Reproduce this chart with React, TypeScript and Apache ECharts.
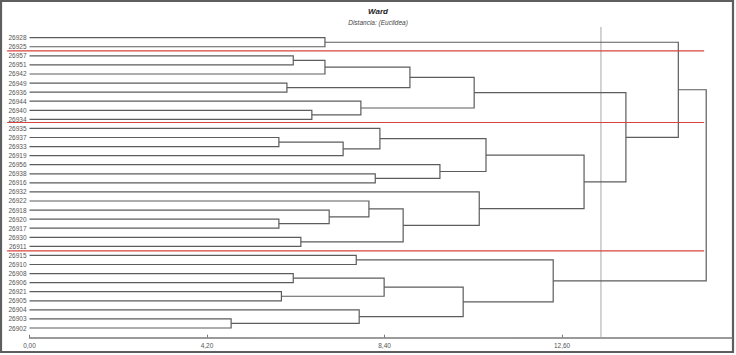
import React, { useEffect, useRef } from "react";
import * as echarts from "echarts";

// Leaf labels, top to bottom
const leaves = [
  "26928", "26925", "26957", "26951", "26942", "26949", "26936", "26944", "26940", "26934",
  "26935", "26937", "26933", "26919", "26956", "26938", "26916", "26932", "26922", "26918",
  "26920", "26917", "26930", "26911", "26915", "26910", "26908", "26906", "26921", "26905",
  "26904", "26903", "26902",
];

// Merges: leaf names or "#k" (k = earlier merge index), with fusion distance
const mergeLeft = [
  "26928", "26957", "#1", "26949", "#2", "26940", "26944", "#4",
  "26937", "#8", "26935", "26938", "26956", "#10",
  "26920", "26918", "26922", "26930", "#16", "26932", "#13", "#7", "#0",
  "26915", "26908", "26921", "#24", "26903", "26904", "#26", "#23", "#22",
];
const mergeRight = [
  "26925", "26951", "26942", "26936", "#3", "26934", "#5", "#6",
  "26933", "26919", "#9", "26916", "#11", "#12",
  "26917", "#14", "#15", "26911", "#17", "#18", "#19", "#20", "#21",
  "26910", "26906", "26905", "#25", "26902", "#27", "#28", "#29", "#30",
];
const mergeHeight = [
  6.99, 6.24, 6.99, 6.09, 9.0, 6.68, 7.84, 10.52,
  5.9, 7.42, 8.29, 8.18, 9.71, 10.8,
  5.9, 7.09, 8.03, 6.42, 8.84, 10.64, 13.12, 14.11, 15.35,
  7.73, 6.24, 5.96, 8.39, 4.77, 7.8, 10.26, 12.39, 16.01,
];

// Cluster separators (row positions) and cut level
const separatorRows = [1.45, 9.35, 23.5];
const separatorFrom = -0.53;
const separatorTo = 15.96;
const cutLevel = 13.52;
const cutFromRow = -1.18;
const cutToRow = 33.07;

const xTickLabels = ["0,00", "4,20", "8,40", "12,60"];
const xMax = 16.62;
const xInterval = 4.2;

function buildLinks() {
  const pos: { h: number; y: number }[] = [];
  const get = (ref: string) => {
    if (ref.startsWith("#")) return pos[parseInt(ref.slice(1), 10)];
    return { h: 0, y: leaves.indexOf(ref) };
  };
  const links: number[][] = [];
  for (let i = 0; i < mergeHeight.length; i++) {
    const a = get(mergeLeft[i]);
    const b = get(mergeRight[i]);
    const h = mergeHeight[i];
    links.push([a.h, a.y, h, b.y, b.h]);
    pos.push({ h, y: (a.y + b.y) / 2 });
  }
  return links;
}

export default function App() {
  const ref = useRef<HTMLDivElement>(null);
  useEffect(() => {
    document.body.style.margin = "0";
    const chart = echarts.init(ref.current!, null, { renderer: "svg" });
    const links = buildLinks();
    const font = "Liberation Sans";
    chart.setOption({
      animation: false,
      backgroundColor: "#ffffff",
      grid: { left: 29.5, right: 4, top: 37.7, bottom: 27 },
      xAxis: {
        type: "value",
        position: "bottom",
        min: 0,
        max: xMax,
        interval: xInterval,
        offset: 9.7,
        axisLine: { show: true, onZero: false, lineStyle: { color: "#7a7a7a", width: 1.5 } },
        axisTick: { show: true, inside: true, length: 3, lineStyle: { color: "#7a7a7a" } },
        splitLine: { show: false },
        axisLabel: {
          fontSize: 6.5,
          color: "#555",
          fontFamily: font,
          margin: 4,
          showMaxLabel: false,
          formatter: (v: number) => {
            const idx = Math.round(v / xInterval);
            return Math.abs(idx * xInterval - v) < 1e-6 && xTickLabels[idx] ? xTickLabels[idx] : "";
          },
        },
      },
      yAxis: {
        type: "value",
        inverse: true,
        min: 0,
        max: leaves.length - 1,
        interval: 1,
        axisLine: { show: false },
        axisTick: { show: false },
        splitLine: { show: false },
        axisLabel: {
          fontSize: 6.5,
          color: "#555",
          fontFamily: font,
          margin: 3,
          formatter: (v: number) => leaves[Math.round(v)] ?? "",
        },
      },
      graphic: [
        {
          type: "rect",
          shape: { x: 1, y: 1, width: 732, height: 351 },
          style: { fill: "none", stroke: "#5e5e5e", lineWidth: 2.2 },
          silent: true,
        },
        {
          type: "text",
          x: 378,
          y: 11,
          style: {
            text: "Ward",
            fontSize: 8,
            fontWeight: "bold",
            fontStyle: "italic",
            fontFamily: font,
            fill: "#222",
            align: "center",
            verticalAlign: "middle",
          },
        },
        {
          type: "text",
          x: 378,
          y: 22,
          style: {
            text: "Distancia: (Euclidea)",
            fontSize: 6.5,
            fontStyle: "italic",
            fontFamily: font,
            fill: "#444",
            align: "center",
            verticalAlign: "middle",
          },
        },
      ],
      series: [
        {
          type: "custom",
          data: [[cutLevel, cutFromRow, cutToRow]],
          encode: { x: [0], y: [1, 2] },
          clip: false,
          silent: true,
          z: 1,
          renderItem: (params: any, api: any) => {
            const p1 = api.coord([api.value(0), api.value(1)]);
            const p2 = api.coord([api.value(0), api.value(2)]);
            return {
              type: "line",
              shape: { x1: p1[0], y1: p1[1], x2: p2[0], y2: p2[1] },
              style: { stroke: "#a8a8a8", lineWidth: 1 },
            };
          },
        },
        {
          type: "custom",
          data: links,
          encode: { x: [0, 2, 4], y: [1, 3] },
          clip: false,
          silent: true,
          z: 2,
          renderItem: (params: any, api: any) => {
            const a = api.coord([api.value(0), api.value(1)]);
            const b = api.coord([api.value(2), api.value(1)]);
            const c = api.coord([api.value(2), api.value(3)]);
            const d = api.coord([api.value(4), api.value(3)]);
            return {
              type: "polyline",
              shape: { points: [a, b, c, d] },
              style: { stroke: "#5c5c5c", lineWidth: 1.2, fill: "none" },
            };
          },
        },
        {
          type: "custom",
          data: separatorRows.map((r) => [separatorFrom, separatorTo, r]),
          encode: { x: [0, 1], y: [2] },
          clip: false,
          silent: true,
          z: 3,
          renderItem: (params: any, api: any) => {
            const p1 = api.coord([api.value(0), api.value(2)]);
            const p2 = api.coord([api.value(1), api.value(2)]);
            return {
              type: "line",
              shape: { x1: p1[0], y1: p1[1], x2: p2[0], y2: p2[1] },
              style: { stroke: "#d9423f", lineWidth: 1.2 },
            };
          },
        },
      ],
    });
    return () => chart.dispose();
  }, []);
  return <div ref={ref} style={{ width: 736, height: 355 }} />;
}
